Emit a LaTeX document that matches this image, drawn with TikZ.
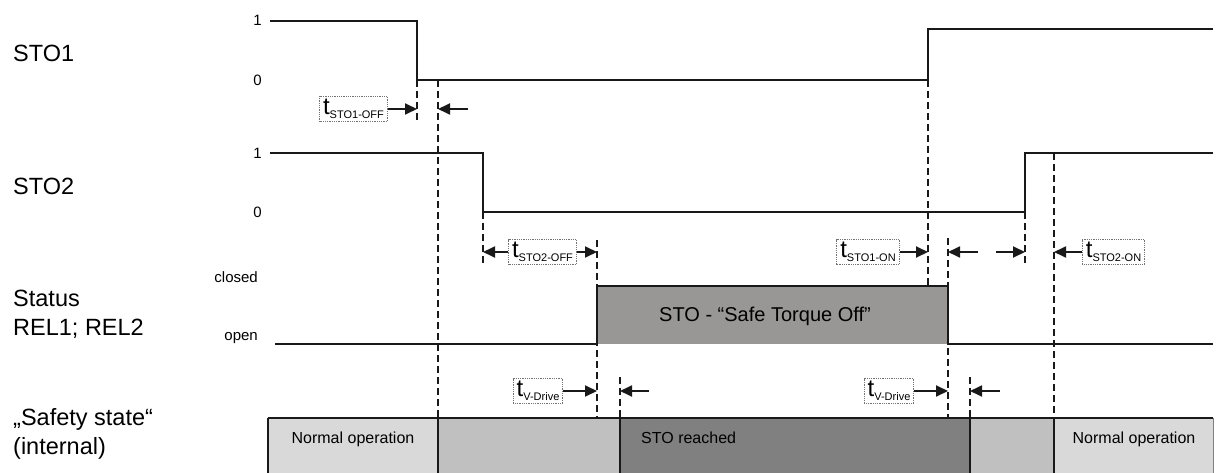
\documentclass[tikz,border=0pt]{standalone}
\usepackage{fontspec}
\setmainfont{Liberation Sans}
\usetikzlibrary{arrows.meta}
\newcommand\tlbl[1]{{\fontsize{24}{24}\selectfont t}\raisebox{-4pt}{\fontsize{11}{11}\selectfont #1}}
\definecolor{relgray}{HTML}{989795}
\definecolor{lightg}{HTML}{D9D9D9}
\definecolor{midg}{HTML}{C0C0C0}
\definecolor{darkg}{HTML}{808080}
\tikzset{
  sig/.style={line width=2.8pt, line join=miter, color=black!90},
  dsh/.style={line width=1.7pt, dash pattern=on 7pt off 4pt, color=black!90},
  arr/.style={line width=1.8pt, color=black!90, -{Triangle[length=12pt,width=11pt]}},
  tbox/.style={draw=black!55, densely dotted, line width=0.8pt, fill=white, inner xsep=3.5pt, inner ysep=0pt, minimum height=25pt},
  big/.style={font=\fontsize{23.5}{29}\selectfont, anchor=west, align=left, inner sep=0pt},
  small/.style={font=\fontsize{15}{17}\selectfont, anchor=east, inner sep=0pt},
  statetxt/.style={font=\fontsize{16}{18}\selectfont, inner sep=0pt},
  border/.style={line width=2.8pt, color=black!90}
}
\begin{document}
\begin{tikzpicture}[x=1pt,y=-1pt]
\useasboundingbox (0,0) rectangle (1217,473);

% left labels
\node[big] (lsto1) at (13,53) {STO1};
\node[big] (lsto2) at (13,186) {STO2};
\node[big] (lrel) at (13,314) {Status\\REL1; REL2};
\node[big] (lsafe) at (13,434) {„Safety state“\\(internal)};

% axis labels
\node[small] (y11) at (262,20) {1};
\node[small] (y10) at (262,80) {0};
\node[small] (y21) at (262,153) {1};
\node[small] (y20) at (262,212) {0};
\node[small] (yc) at (258,277) {closed};
\node[small] (yo) at (258,338) {open};

% STO1 waveform
\coordinate (s1a) at (270,21);
\coordinate (s1b) at (417,21);
\coordinate (s1c) at (417,80);
\coordinate (s1d) at (928,80);
\coordinate (s1e) at (928,29);
\coordinate (s1f) at (1213,29);
\draw[sig] (s1a) -- (s1b) -- (s1c) -- (s1d) -- (s1e) -- (s1f);

% STO2 waveform
\coordinate (s2a) at (270,153);
\coordinate (s2b) at (483,153);
\coordinate (s2c) at (483,212);
\coordinate (s2d) at (1025,212);
\coordinate (s2e) at (1025,153);
\coordinate (s2f) at (1213,153);
\draw[sig] (s2a) -- (s2b) -- (s2c) -- (s2d) -- (s2e) -- (s2f);

% REL status
\coordinate (ra) at (275,344);
\coordinate (rb) at (597,344);
\coordinate (rc) at (597,286);
\coordinate (rd) at (948,286);
\coordinate (re) at (948,344);
\coordinate (rf) at (1213,344);
\fill[relgray] (rc) rectangle (re);
\node[font=\fontsize{20}{22}\selectfont, inner sep=0pt] (stotxt) at (765,316) {STO - “Safe Torque Off”};
\draw[sig] (ra) -- (rb) -- (rc) -- (rd) -- (re) -- (rf);

% safety state bar
\fill[lightg] (268,418) rectangle (438,480);
\fill[midg] (438,418) rectangle (620,480);
\fill[darkg] (620,418) rectangle (970,480);
\fill[midg] (970,418) rectangle (1054,480);
\fill[lightg] (1054,418) rectangle (1213,480);
\draw[black!50, line width=0.8pt] (1213,418) -- (1213,480);
\coordinate (b0) at (268,418);
\coordinate (b1) at (438,418);
\coordinate (b2) at (620,418);
\coordinate (b3) at (970,418);
\coordinate (b4) at (1054,418);
\coordinate (b5) at (1213,418);
\draw[border] (b0) -- (b5);
\foreach \c in {b0,b1,b2,b3,b4} \draw[border] (\c) -- ++(0,62);
\node[statetxt] (n1) at (353,439) {Normal operation};
\node[statetxt, anchor=west] (n2) at (641,438) {STO reached};
\node[statetxt] (n3) at (1134,439) {Normal operation};

% dashed lines
\coordinate (d1) at (417,120);
\coordinate (t2) at (438,80);
\coordinate (t4) at (597,240);
\coordinate (t5) at (620,377);
\coordinate (d3) at (483,263);
\coordinate (d6) at (928,286);
\coordinate (t7) at (948,238);
\coordinate (t8) at (970,377);
\coordinate (d9) at (1025,263);
\coordinate (t10) at (1054,153);
\draw[dsh] (s1c) -- (d1);
\draw[dsh] (t2) -- (b1);
\draw[dsh] (s2c) -- (d3);
\draw[dsh] (t4) -- (597,418);
\draw[dsh] (t5) -- (b2);
\draw[dsh] (s1d) -- (d6);
\draw[dsh] (t7) -- (948,418);
\draw[dsh] (t8) -- (b3);
\draw[dsh] (s2d) -- (d9);
\draw[dsh] (t10) -- (b4);

% time boxes
\node[tbox] (tA) at (353.5,109) {\tlbl{STO1-OFF}};
\node[tbox] (tB) at (542.5,252) {\tlbl{STO2-OFF}};
\node[tbox] (tC) at (868,252) {\tlbl{STO1-ON}};
\node[tbox] (tD) at (1113.5,252) {\tlbl{STO2-ON}};
\node[tbox] (tE) at (538,391) {\tlbl{V-Drive}};
\node[tbox] (tF) at (889,391) {\tlbl{V-Drive}};

% arrows
\coordinate (a1) at (468,109);
\coordinate (a2) at (978,252);
\coordinate (a3) at (996,252);
\coordinate (a4) at (649,391);
\coordinate (a5) at (1000,391);
\draw[arr] (tA.east) -- (tA.east -| s1c);
\draw[arr] (a1) -- (a1 -| t2);
\draw[arr] (tB.west) -- (tB.west -| s2c);
\draw[arr] (tB.east) -- (tB.east -| t4);
\draw[arr] (tC.east) -- (tC.east -| s1d);
\draw[arr] (a2) -- (a2 -| t7);
\draw[arr] (a3) -- (a3 -| s2d);
\draw[arr] (tD.west) -- (tD.west -| t10);
\draw[arr] (tE.east) -- (tE.east -| t4);
\draw[arr] (a4) -- (a4 -| t5);
\draw[arr] (tF.east) -- (tF.east -| t7);
\draw[arr] (a5) -- (a5 -| t8);
\end{tikzpicture}
\end{document}
